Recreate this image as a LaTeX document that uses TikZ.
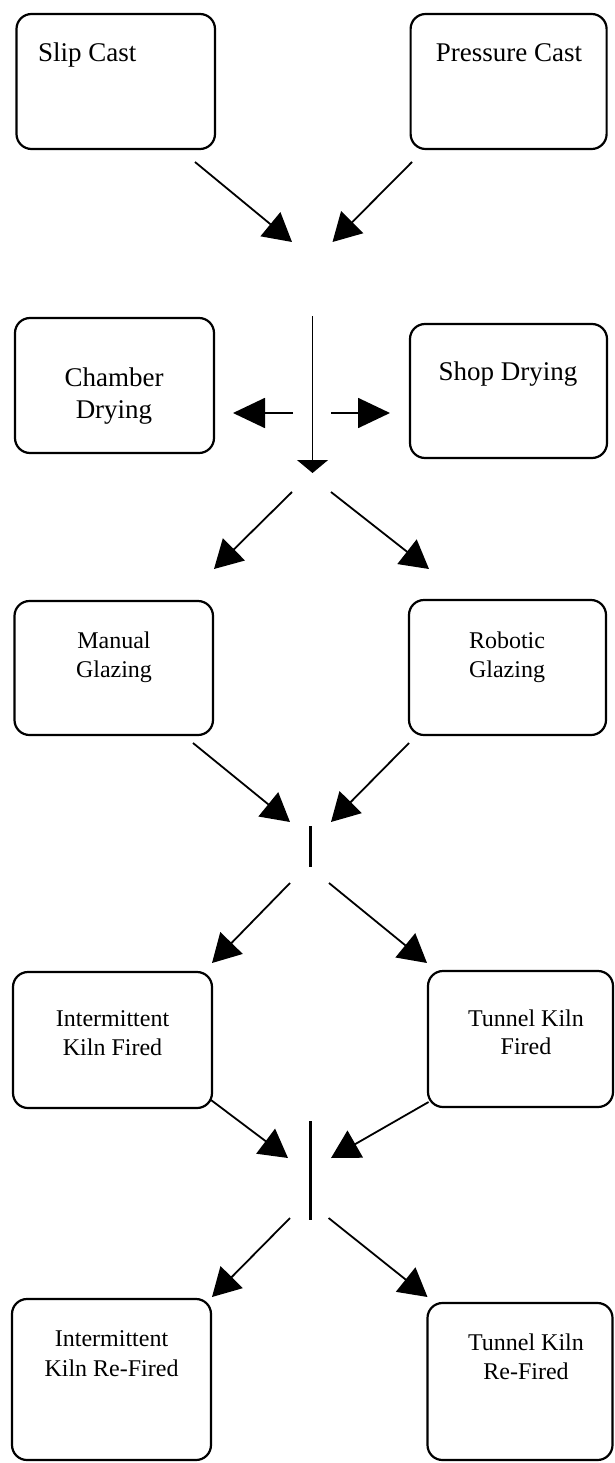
\documentclass[tikz,border=0pt]{standalone}
\usepackage{fontspec}
\setmainfont{Liberation Serif}
\usetikzlibrary{arrows.meta}
\begin{document}
\begin{tikzpicture}[x=1pt,y=-1pt,
  box/.style={draw,line width=2.2pt,rounded corners=15pt,inner sep=0pt},
  bigtxt/.style={font=\fontsize{27}{32}\selectfont,inner sep=0pt,anchor=base},
  smalltxt/.style={font=\fontsize{24}{29}\selectfont,inner sep=0pt,anchor=base},
  flow/.style={line width=1.8pt,-{Triangle[length=28pt,width=31pt]}},
  sidearrow/.style={line width=1.8pt,-{Triangle[length=32pt,width=30pt]}},
  downarrow/.style={line width=1.1pt,-{Triangle[length=13pt,width=31pt]}},
  bar/.style={line width=3pt}]
\useasboundingbox (0,0) rectangle (615,1463);

% boxes
\node[box,minimum width=198.5pt,minimum height=135pt] (slip) at (115.75,81.5) {};
\node[box,minimum width=196pt,minimum height=135pt] (press) at (508.6,81.5) {};
\node[box,minimum width=199pt,minimum height=135pt] (chamber) at (114.5,385.5) {};
\node[box,minimum width=197pt,minimum height=134pt] (shop) at (508.5,391) {};
\node[box,minimum width=198.5pt,minimum height=134pt] (manual) at (113.75,668) {};
\node[box,minimum width=197pt,minimum height=135pt] (robotic) at (507.5,667.5) {};
\node[box,minimum width=199pt,minimum height=136pt] (ikf) at (112.5,1040) {};
\node[box,minimum width=185pt,minimum height=136pt] (tkf) at (520.5,1039) {};
\node[box,minimum width=199pt,minimum height=161pt] (ikr) at (111.5,1379.5) {};
\node[box,minimum width=185pt,minimum height=157pt] (tkr) at (520,1381.5) {};

% texts
\node[bigtxt,anchor=base west] (tslip) at (38,62) {Slip Cast};
\node[bigtxt] (tpress) at (509,62) {Pressure Cast};
\node[bigtxt] (tcham1) at (114,386) {Chamber};
\node[bigtxt] (tcham2) at (114,418) {Drying};
\node[bigtxt] (tshop) at (508,380) {Shop Drying};
\node[smalltxt] (tman1) at (114,648) {Manual};
\node[smalltxt] (tman2) at (114,677) {Glazing};
\node[smalltxt] (trob1) at (507,648) {Robotic};
\node[smalltxt] (trob2) at (507,677) {Glazing};
\node[smalltxt] (tikf1) at (112.5,1026) {Intermittent};
\node[smalltxt] (tikf2) at (112.5,1055) {Kiln Fired};
\node[smalltxt] (ttkf1) at (526,1026) {Tunnel Kiln};
\node[smalltxt] (ttkf2) at (526,1054) {Fired};
\node[smalltxt] (tikr1) at (111.5,1346) {Intermittent};
\node[smalltxt] (tikr2) at (111.5,1376) {Kiln Re-Fired};
\node[smalltxt] (ttkr1) at (526,1350) {Tunnel Kiln};
\node[smalltxt] (ttkr2) at (526,1379) {Re-Fired};

% connector end points
\coordinate (a1s) at (195,162);   \coordinate (a1e) at (292,242);
\coordinate (a2s) at (412,162);   \coordinate (a2e) at (332.5,242);
\coordinate (vs) at (312.5,316);  \coordinate (ve) at (312.5,473);
\coordinate (hls) at (293,413);   \coordinate (hle) at (233,413);
\coordinate (hrs) at (331,413);   \coordinate (hre) at (390,413);
\coordinate (d1s) at (292,492);   \coordinate (d1e) at (214,569);
\coordinate (d2s) at (331,492);   \coordinate (d2e) at (429,569);
\coordinate (g1s) at (193,743);   \coordinate (g1e) at (290,822);
\coordinate (g2s) at (409,743);   \coordinate (g2e) at (331,822);
\coordinate (b1s) at (310,826);   \coordinate (b1e) at (310,867);
\coordinate (k1s) at (290,883);   \coordinate (k1e) at (212,963);
\coordinate (k2s) at (329,883);   \coordinate (k2e) at (427,963);
\coordinate (f1s) at (211,1100);  \coordinate (f1e) at (288,1158);
\coordinate (f2s) at (428.6,1102);\coordinate (f2e) at (331,1158);
\coordinate (b2s) at (310,1121);  \coordinate (b2e) at (310,1220);
\coordinate (r1s) at (290,1218);  \coordinate (r1e) at (212,1297);
\coordinate (r2s) at (328.6,1218);\coordinate (r2e) at (427.5,1297);

% connectors
\draw[flow] (a1s) -- (a1e);
\draw[flow] (a2s) -- (a2e);
\draw[downarrow] (vs) -- (ve);
\draw[sidearrow] (hls) -- (hle);
\draw[sidearrow] (hrs) -- (hre);
\draw[flow] (d1s) -- (d1e);
\draw[flow] (d2s) -- (d2e);
\draw[flow] (g1s) -- (g1e);
\draw[flow] (g2s) -- (g2e);
\draw[bar] (b1s) -- (b1e);
\draw[flow] (k1s) -- (k1e);
\draw[flow] (k2s) -- (k2e);
\draw[flow] (f1s) -- (f1e);
\draw[flow] (f2s) -- (f2e);
\draw[bar] (b2s) -- (b2e);
\draw[flow] (r1s) -- (r1e);
\draw[flow] (r2s) -- (r2e);
\end{tikzpicture}
\end{document}
